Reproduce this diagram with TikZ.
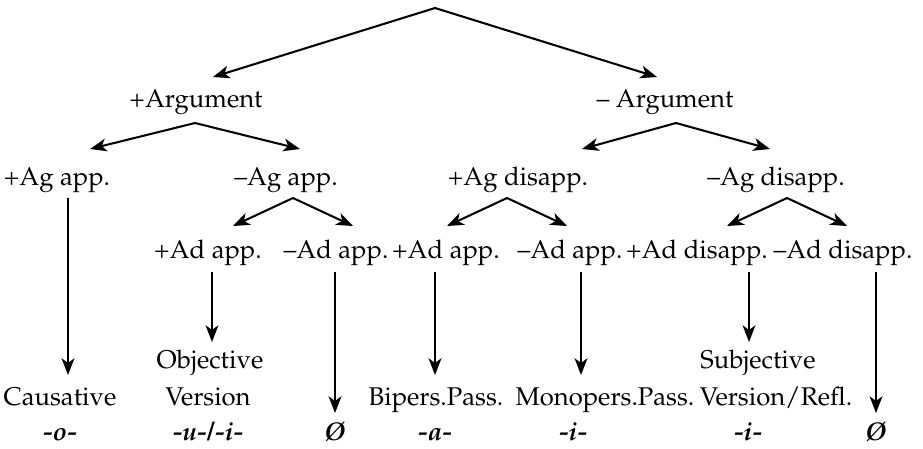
\documentclass[tikz,border=0pt]{standalone}
\usepackage[T1]{fontenc}
\usepackage{mathpazo}
\usetikzlibrary{arrows.meta}

\tikzset{
  lbl/.style={anchor=base, inner sep=0pt},
  morph/.style={lbl, font=\bfseries\itshape},
  arr/.style={line width=0.8pt, -{Stealth[length=6.5pt, width=5pt, inset=1.8pt]}}
}

\begin{document}
\begin{tikzpicture}[x=0.39pt, y=-0.39pt]
\useasboundingbox (0,0) rectangle (923,448);

% top split
\coordinate (root) at (435,8);
\node[lbl] (argp) at (196,107) {+Argument};
\node[lbl] (argm) at (665,107) {-- Argument};

% second level
\node[lbl] (agp) at (57,185) {+Ag app.};
\node[lbl] (agm) at (286,185) {--Ag app.};
\node[lbl] (dgp) at (518,185) {+Ag disapp.};
\node[lbl] (dgm) at (776,185) {--Ag disapp.};

% third level
\node[lbl] (adp1) at (208,258) {+Ad app.};
\node[lbl] (adm1) at (336,258) {--Ad app.};
\node[lbl] (adp2) at (446,258) {+Ad app.};
\node[lbl] (adm2) at (570,258) {--Ad app.};
\node[lbl] (ddp) at (697,258) {+Ad disapp.};
\node[lbl] (ddm) at (843,258) {--Ad disapp.};

% results
\node[lbl] (caus) at (60,405) {Causative};
\node[lbl] (objv) at (210,368) {Objective};
\node[lbl] (objv2) at (208,405) {Version};
\node[lbl] (bip) at (436,405) {Bipers.Pass.};
\node[lbl] (mono) at (605,405) {Monopers.Pass.};
\node[lbl] (subj) at (758,368) {Subjective};
\node[lbl] (subj2) at (776,405) {Version/Refl.};

% markers
\node[morph] (mo) at (60,440) {-o-};
\node[morph] (mu) at (208,440) {-u-/-i-};
\node[morph] (mz1) at (335,440) {\O};
\node[morph] (ma) at (435,440) {-a-};
\node[morph] (mi1) at (573,440) {-i-};
\node[morph] (mi2) at (748,440) {-i-};
\node[morph] (mz2) at (876,440) {\O};

% fork points
\coordinate (f-argp) at (195,123);
\coordinate (f-argm) at (676,123);
\coordinate (f-agm) at (293,198);
\coordinate (f-dgp) at (507,198);
\coordinate (f-dgm) at (787,198);

% arrow tips
\coordinate (t-argp) at (213,77);
\coordinate (t-argm) at (657,77);
\coordinate (t-agp) at (90,149);
\coordinate (t-agm) at (300,149);
\coordinate (t-dgp) at (582,149);
\coordinate (t-dgm) at (770,149);
\coordinate (t-adp1) at (233,226);
\coordinate (t-adm1) at (353,226);
\coordinate (t-adp2) at (447,226);
\coordinate (t-adm2) at (567,226);
\coordinate (t-ddp) at (727,226);
\coordinate (t-ddm) at (847,226);

\foreach \a/\b in {root/t-argp, root/t-argm,
                   f-argp/t-agp, f-argp/t-agm, f-argm/t-dgp, f-argm/t-dgm,
                   f-agm/t-adp1, f-agm/t-adm1, f-dgp/t-adp2, f-dgp/t-adm2,
                   f-dgm/t-ddp, f-dgm/t-ddm}
  \draw[arr] (\a) -- (\b);

% vertical arrows
\foreach \x/\y/\z in {68/198/375, 212/272/342, 335/272/413, 435/272/375,
                      581/272/375, 749/272/342, 876/272/413} {
  \coordinate (v-\x) at (\x,\y);
  \coordinate (w-\x) at (\x,\z);
  \draw[arr] (v-\x) -- (w-\x);
}
\end{tikzpicture}
\end{document}
